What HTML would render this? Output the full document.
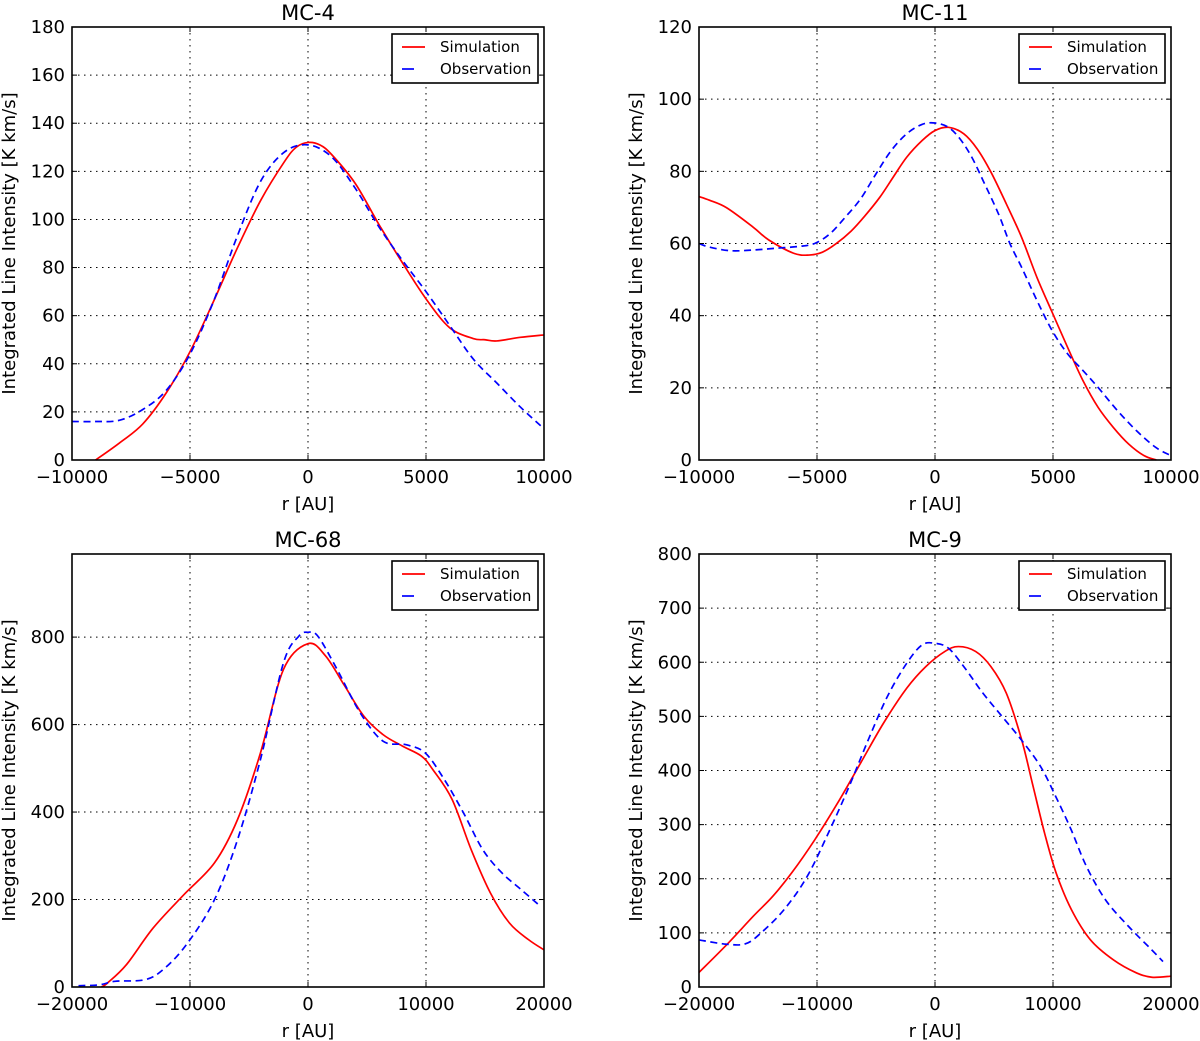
<!DOCTYPE html>
<html><head><meta charset="utf-8"><style>
html,body{margin:0;padding:0;background:#fff;}
svg{display:block;font-family:"DejaVu Sans","Liberation Sans",sans-serif;}
</style></head><body>
<svg id="fig" width="1200" height="1041" viewBox="0 0 1200 1041" xmlns="http://www.w3.org/2000/svg"></svg>
<script>
// ---- MC-4 ----
const mc4SimX = [-9000,-8000,-7000,-6000,-5000,-4000,-3000,-2000,-1000,-500,0,500,1000,2000,3000,4000,5000,6000,7000,7500,8000,9000,10000];
const mc4SimY = [0,7,15,28,45,66,88,108,124,130,132,131,127,115,98,82,67,55,50.5,50,49.5,51,52];
const mc4ObsX = [-10000,-9000,-8000,-7000,-6000,-5000,-4000,-3000,-2000,-1000,0,1000,2000,3000,4000,5000,6000,7000,8000,9000,10000];
const mc4ObsY = [16,16,16.5,21,29,44,66,93,116,128,131,126,113,97,83,70,56,42,32,22,13];
const mc4YTicks = [0,20,40,60,80,100,120,140,160,180];
const mc4XTicks = [-10000,-5000,0,5000,10000];
// ---- MC-11 ----
const mc11SimX = [-10000,-9560,-8830,-7700,-7050,-5990,-5340,-4770,-4200,-3560,-2990,-2340,-1770,-1200,-550,0,570,1220,1790,2370,3020,3670,4320,4960,5620,6270,6910,7560,8210,8860,9380];
const mc11SimY = [73,72,69.9,64.5,61,57.3,56.8,57.6,59.9,63.4,67.5,72.8,78.4,83.9,88.5,91.3,92.2,90.4,86.2,79.8,71,61.7,50.6,41,31.2,22,14.6,9,4.4,1.2,0];
const mc11ObsX = [-10000,-9560,-8670,-7700,-6720,-5750,-5100,-4450,-3800,-3150,-2500,-1850,-1200,-550,0,570,1060,1560,2040,2690,3180,3670,4320,4960,5620,6270,6910,7730,8540,9350,10000];
const mc11ObsY = [60,59,58,58.2,58.7,59.2,60,62.7,67.3,72.4,79.3,85.8,90.4,93,93.4,92.2,89,83.9,77.4,68.2,59.9,53.4,44.2,35.9,29.4,24.8,20.1,13.7,8.1,3.5,1.2];
const mc11YTicks = [0,20,40,60,80,100,120];
const mc11XTicks = [-10000,-5000,0,5000,10000];
// ---- MC-68 ----
const mc68SimX = [-17500,-17000,-15390,-13120,-10520,-7920,-5970,-4030,-2080,0,1490,3120,4740,6360,7990,9610,10580,12210,13830,15460,17080,18700,20000];
const mc68SimY = [0,9,51,135,211,284,383,535,726,785,757,688,619,577,551,528,497,429,314,215,146,108,85];
const mc68ObsX = [-19450,-17660,-16360,-13770,-12140,-10190,-7920,-5970,-4030,-2080,-780,0,840,2470,4420,6360,8310,9940,11560,13180,14810,16430,18050,19680];
const mc68ObsY = [3,5,13,17,43,101,200,337,520,741,802,811,802,726,627,562,554,535,474,398,314,261,223,185];
const mc68YTicks = [0,200,400,600,800];
const mc68XTicks = [-20000,-10000,0,10000,20000];
// ---- MC-9 ----
const mc9SimX = [-20000,-17660,-15390,-13770,-12140,-10190,-8250,-6300,-4350,-2400,-780,840,1980,3440,4740,6040,7340,8310,9290,10260,11560,13180,15130,17080,18380,20000];
const mc9SimY = [27,78,131,167,211,272,340,414,488,552,592,620,629,620,592,543,457,371,284,211,143,87,50,26,18,20];
const mc9ObsX = [-20000,-17660,-16040,-14740,-12790,-10840,-8900,-7270,-5650,-4030,-2400,-1100,0,1140,2440,4060,5680,7300,8930,10230,11530,12830,14450,16400,18350,19320];
const mc9ObsY = [87,79,80,100,143,204,291,371,457,537,598,632,635,626,592,543,500,457,408,352,291,223,161,112,69,47];
const mc9YTicks = [0,100,200,300,400,500,600,700,800];
const mc9XTicks = [-20000,-10000,0,10000,20000];

const NS = "http://www.w3.org/2000/svg";
const svg = document.getElementById('fig');
function mk(tag, attrs, parent){const e=document.createElementNS(NS,tag);for(const k in attrs)e.setAttribute(k,attrs[k]);(parent||svg).appendChild(e);return e;}
function fmt(v){return v<0?'\u2212'+Math.abs(v):String(v);}
function smooth(pts){
  let d='M'+pts[0][0]+','+pts[0][1];
  for(let i=0;i<pts.length-1;i++){
    const p0=pts[Math.max(0,i-1)],p1=pts[i],p2=pts[i+1],p3=pts[Math.min(pts.length-1,i+2)];
    const c1x=p1[0]+(p2[0]-p0[0])/6,c1y=p1[1]+(p2[1]-p0[1])/6;
    const c2x=p2[0]-(p3[0]-p1[0])/6,c2y=p2[1]-(p3[1]-p1[1])/6;
    d+=' C'+c1x+','+c1y+' '+c2x+','+c2y+' '+p2[0]+','+p2[1];
  }
  return d;
}

function panel(id, title, ox, oy, xmin, xmax, ymax, xt, yt, sx, sy, obx, oby){
  const L=ox, R=ox+472, T=oy, B=oy+433;
  const X=v=>L+(v-xmin)/(xmax-xmin)*(R-L);
  const Y=v=>B-v/ymax*(B-T);
  const g=mk('g',{});
  
  
  const t=mk('text',{x:(L+R)/2,y:T-7,'text-anchor':'middle','font-size':21},g);
  t.textContent=title;
  
  
  xt.forEach(v=>{const l=mk('line',{x1:X(v),x2:X(v),y1:T,y2:B,stroke:'#000','stroke-width':1,'stroke-dasharray':'1.5,4.5'},g);
    
    });
  yt.forEach(v=>{const l=mk('line',{x1:L,x2:R,y1:Y(v),y2:Y(v),stroke:'#000','stroke-width':1,'stroke-dasharray':'1.5,4.5'},g);
    
    });
  const sp=mk('path',{d:smooth(sx.map((x,i)=>[X(x),Y(sy[i])])),fill:'none',stroke:'#ff0000','stroke-width':1.7},g);
  
  
  const op=mk('path',{d:smooth(obx.map((x,i)=>[X(x),Y(oby[i])])),fill:'none',stroke:'#0000ff','stroke-width':1.7,'stroke-dasharray':'7,4.5'},g);
  
  
  const fr=mk('rect',{x:L,y:T,width:R-L,height:B-T,fill:'none',stroke:'#000','stroke-width':1.6},g);
  
  
  xt.forEach(v=>{mk('line',{x1:X(v),x2:X(v),y1:B,y2:B-5,stroke:'#000'},g);mk('line',{x1:X(v),x2:X(v),y1:T,y2:T+5,stroke:'#000'},g);
    const tx=mk('text',{x:X(v),y:B+23,'text-anchor':'middle','font-size':18},g);tx.textContent=fmt(v);
    
    });
  yt.forEach(v=>{mk('line',{x1:L,x2:L+5,y1:Y(v),y2:Y(v),stroke:'#000'},g);mk('line',{x1:R,x2:R-5,y1:Y(v),y2:Y(v),stroke:'#000'},g);
    const ty=mk('text',{x:L-7,y:Y(v)+6,'text-anchor':'end','font-size':18},g);ty.textContent=fmt(v);
    
    });
  const xl=mk('text',{x:(L+R)/2,y:B+50,'text-anchor':'middle','font-size':18},g);xl.textContent='r [AU]';
  
  
  const cy=(T+B)/2;
  const yl=mk('text',{x:L-57,y:cy,'text-anchor':'middle','font-size':18,transform:'rotate(-90 '+(L-57)+' '+cy+')'},g);
  yl.textContent='Integrated Line Intensity [K km/s]';
  
  
  const lg=mk('g',{},g);
  
  
  mk('rect',{x:R-152,y:T+7,width:146,height:49,fill:'#fff',stroke:'#000','stroke-width':1.6},lg);
  mk('line',{x1:R-142,x2:R-119,y1:T+20,y2:T+20,stroke:'#ff0000','stroke-width':1.7},lg);
  mk('line',{x1:R-142,x2:R-130,y1:T+42,y2:T+42,stroke:'#0000ff','stroke-width':1.7},lg);
  const l1=mk('text',{x:R-104,y:T+25,'font-size':15},lg);l1.textContent='Simulation';
  
  
  const l2=mk('text',{x:R-104,y:T+47,'font-size':15},lg);l2.textContent='Observation';
  
  
}
panel('mc-4','MC-4',72,27,-10000,10000,180,mc4XTicks,mc4YTicks,mc4SimX,mc4SimY,mc4ObsX,mc4ObsY);
panel('mc-11','MC-11',699,27,-10000,10000,120,mc11XTicks,mc11YTicks,mc11SimX,mc11SimY,mc11ObsX,mc11ObsY);
panel('mc-68','MC-68',72,554,-20000,20000,990,mc68XTicks,mc68YTicks,mc68SimX,mc68SimY,mc68ObsX,mc68ObsY);
panel('mc-9','MC-9',699,554,-20000,20000,800,mc9XTicks,mc9YTicks,mc9SimX,mc9SimY,mc9ObsX,mc9ObsY);
</script>
</body></html>
